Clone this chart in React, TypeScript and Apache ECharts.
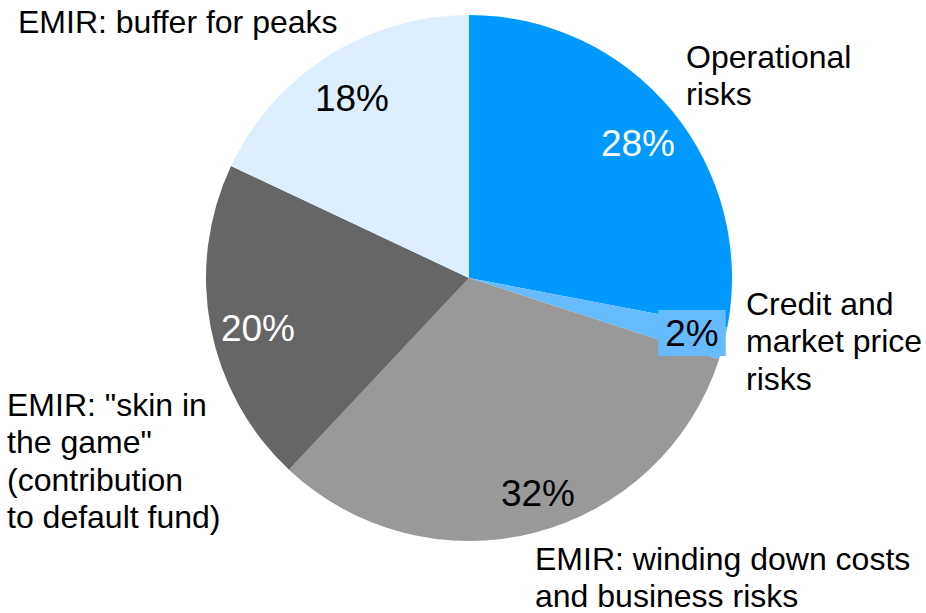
import React, { useEffect, useRef } from "react";
import * as echarts from "echarts";

const categories = [
  "Operational\nrisks",
  "Credit and\nmarket price\nrisks",
  "EMIR: winding down costs\nand business risks",
  'EMIR: "skin in\nthe game"\n(contribution\nto default fund)',
  "EMIR: buffer for peaks",
];
const shares = [28, 2, 32, 20, 18];

const sliceColors = ["#0099FF", "#66BBFF", "#999999", "#666666", "#DDEEFF"];
const percentTextColors = ["#FFFFFF", "#000000", "#000000", "#FFFFFF", "#000000"];

// label placement (layout, not data)
const percentPos: [number, number][] = [
  [638, 143],
  [692, 333],
  [538, 493],
  [258, 328],
  [352, 98],
];
const namePos: [number, number][] = [
  [686, 38],
  [746, 285],
  [535, 540],
  [7, 386],
  [18, 3],
];

const FONT = "'Liberation Sans', Arial, Helvetica, sans-serif";

export default function App() {
  const ref = useRef<HTMLDivElement>(null);

  useEffect(() => {
    if (!ref.current) return;
    const chart = echarts.init(ref.current, null, { renderer: "svg" });

    const mainData = categories.map((name, i) => ({
      name,
      value: shares[i],
      itemStyle: { color: sliceColors[i] },
      label:
        i === 1
          ? {
              color: percentTextColors[i],
              backgroundColor: sliceColors[i],
              padding: [5, 7, 4, 7],
            }
          : { color: percentTextColors[i] },
    }));

    const nameData = categories.map((name, i) => ({
      name,
      value: shares[i],
    }));

    chart.setOption({
      animation: false,
      backgroundColor: "#FFFFFF",
      series: [
        {
          type: "pie",
          center: [469, 278],
          radius: [0, 263],
          startAngle: 90,
          clockwise: true,
          avoidLabelOverlap: false,
          silent: true,
          itemStyle: { borderWidth: 0 },
          label: {
            show: true,
            position: "inside",
            formatter: "{c}%",
            fontSize: 37,
            lineHeight: 37,
            fontFamily: FONT,
          },
          labelLine: { show: false },
          labelLayout: (p: any) => ({
            x: percentPos[p.dataIndex][0],
            y: percentPos[p.dataIndex][1],
            align: "center",
            verticalAlign: "middle",
          }),
          data: mainData,
        },
        {
          type: "pie",
          center: [469, 278],
          radius: [0, 263],
          startAngle: 90,
          clockwise: true,
          avoidLabelOverlap: false,
          silent: true,
          itemStyle: { color: "rgba(0,0,0,0)", borderWidth: 0 },
          label: {
            show: true,
            position: "outside",
            formatter: "{b}",
            color: "#000000",
            fontSize: 32,
            lineHeight: 37.5,
            fontFamily: FONT,
          },
          labelLine: { show: false },
          labelLayout: (p: any) => ({
            x: namePos[p.dataIndex][0],
            y: namePos[p.dataIndex][1],
            align: "left",
            verticalAlign: "top",
          }),
          data: nameData,
        },
      ],
    });

    return () => {
      chart.dispose();
    };
  }, []);

  return (
    <div
      ref={ref}
      style={{ position: "fixed", left: 0, top: 0, width: 926, height: 613 }}
    />
  );
}
